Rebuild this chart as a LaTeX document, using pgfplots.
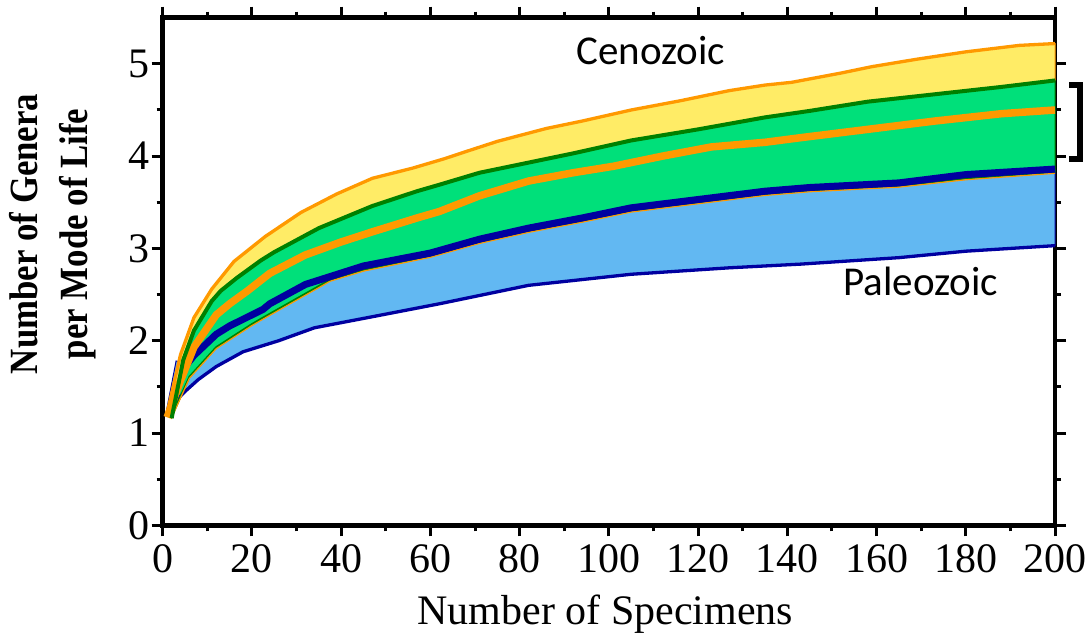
\documentclass[border=0pt]{standalone}
\usepackage{pgfplots}
\pgfplotsset{compat=1.18}
\usepgfplotslibrary{fillbetween}
\usepackage{fontspec}
\setmainfont{Liberation Serif}
\newfontfamily\calibri{Carlito}
\definecolor{corange}{HTML}{FF9900}
\definecolor{cgline}{HTML}{008000}
\definecolor{cyellow}{HTML}{FFEC66}
\definecolor{cgreen}{HTML}{00E07A}
\definecolor{cblue}{HTML}{62B8F2}
\definecolor{cnavy}{HTML}{0000A0}

\begin{document}
\begin{tikzpicture}[x=1pt,y=1pt]
\begin{axis}[
  at={(162.7pt,109.7pt)}, anchor=south west,
  scale only axis, width=892.3pt, height=507.6pt,
  xmin=0, xmax=200, ymin=0, ymax=5.5,
  xtick={0,20,...,200}, ytick={0,1,...,5},
  minor x tick num=1, minor y tick num=1,
  tick align=outside, xtick pos=both, ytick pos=both,
  xticklabel pos=lower, yticklabel pos=left,
  major tick length=11pt, minor tick length=6pt,
  axis line style={line width=4.5pt},
  every tick/.style={black, line width=3pt},
  tick label style={font=\fontsize{42}{42}\selectfont, inner sep=2pt},
  xticklabel style={yshift=-6pt},
  /pgf/number format/assume math mode=true,
  xlabel={Number of Specimens},
  xlabel style={at={(axis description cs:0.496,-0.196)}, anchor=base, font=\fontsize{42}{42}\selectfont},
  ylabel={\scalebox{0.87}[1]{Number of Genera}\\\scalebox{0.87}[1]{per Mode of Life}},
  ylabel style={at={(axis description cs:-0.123,0.574)}, anchor=center, align=center, font=\bfseries\fontsize{40}{50}\selectfont},
  clip=false,
]
% boundary curves (invisible), used for the fills
\addplot[draw=none, name path=otop] coordinates {
  (1,1.22) (4,1.85) (7,2.25) (11,2.56) (16,2.86) (23,3.13) (31,3.39) (39,3.59)
  (47,3.76) (56,3.87) (63,3.97) (68,4.05) (75,4.16) (86,4.30) (94,4.38) (105,4.50)
  (116,4.60) (127,4.71) (135,4.77) (141,4.80) (152,4.90) (159,4.97) (169,5.05)
  (180,5.13) (192,5.20) (200,5.22)};
\addplot[draw=none, name path=gline] coordinates {
  (2,1.16) (4.6,1.79) (7,2.11) (11,2.43) (13,2.54) (16.6,2.68) (22,2.87) (25,2.96)
  (35,3.22) (47,3.46) (57,3.62) (62,3.69) (71,3.82) (82,3.93) (92,4.03) (105,4.17)
  (120,4.29) (135,4.42) (145,4.49) (158,4.59) (173,4.67) (188,4.75) (200,4.82)};
\addplot[draw=none, name path=lowc] coordinates {
  (2,1.18) (6,1.61) (12,1.93) (20,2.18) (22.5,2.25) (37.5,2.66) (45,2.77) (60,2.92)
  (71,3.07) (82,3.19) (94,3.30) (105,3.41) (120,3.50) (135,3.59) (145,3.63)
  (165,3.68) (180,3.76) (200,3.83)};
\addplot[draw=none, name path=bup] coordinates {
  (1,1.28) (3,1.78) (5,1.76) (7,1.84) (12,2.07) (15,2.16) (22.5,2.34) (24,2.40)
  (32,2.61) (45,2.81) (60,2.95) (71,3.10) (82,3.22) (94,3.33) (105,3.44) (120,3.53)
  (135,3.62) (145,3.66) (165,3.71) (180,3.80) (200,3.86)};
\addplot[draw=none, name path=blow] coordinates {
  (1,1.25) (4,1.40) (5,1.45) (8,1.58) (12,1.72) (18,1.88) (26,2.00) (34,2.14)
  (47,2.26) (62,2.40) (82,2.60) (105,2.72) (127,2.79) (143,2.83) (165,2.90)
  (180,2.97) (200,3.03)};

% bands
\addplot[cblue, draw=cnavy, line width=1pt] fill between[of=bup and blow];
\addplot[cyellow, draw=corange, line width=1pt] fill between[of=otop and gline];
\addplot[cgreen, draw=cgline, line width=1pt] fill between[of=gline and lowc];

% visible lines
\addplot[cnavy, line width=3.3pt] coordinates {
  (1,1.25) (4,1.40) (5,1.45) (8,1.58) (12,1.72) (18,1.88) (26,2.00) (34,2.14)
  (47,2.26) (62,2.40) (82,2.60) (105,2.72) (127,2.79) (143,2.83) (165,2.90)
  (180,2.97) (200,3.03)};
\addplot[cgline, line width=2pt] coordinates {
  (2,1.18) (6,1.61) (12,1.93) (20,2.18) (22.5,2.25) (37.5,2.66) (45,2.77) (60,2.92)
  (71,3.07) (82,3.19) (94,3.30) (105,3.41) (120,3.50) (135,3.59) (145,3.63)
  (165,3.68) (180,3.76) (200,3.83)};
\addplot[corange, line width=1.2pt, yshift=-1.5pt] coordinates {
  (2,1.18) (6,1.61) (12,1.93) (20,2.18) (22.5,2.25) (37.5,2.66) (45,2.77) (60,2.92)
  (71,3.07) (82,3.19) (94,3.30) (105,3.41) (120,3.50) (135,3.59) (145,3.63)
  (165,3.68) (180,3.76) (200,3.83)};
\addplot[corange, line width=3.3pt] coordinates {
  (1,1.22) (4,1.85) (7,2.25) (11,2.56) (16,2.86) (23,3.13) (31,3.39) (39,3.59)
  (47,3.76) (56,3.87) (63,3.97) (68,4.05) (75,4.16) (86,4.30) (94,4.38) (105,4.50)
  (116,4.60) (127,4.71) (135,4.77) (141,4.80) (152,4.90) (159,4.97) (169,5.05)
  (180,5.13) (192,5.20) (200,5.22)};
\addplot[cnavy, line width=7pt] coordinates {
  (5,1.72) (7,1.84) (12,2.07) (15,2.16) (22.5,2.34) (24,2.40) (32,2.61) (45,2.81)
  (60,2.95) (71,3.10) (82,3.22) (94,3.33) (105,3.44) (120,3.53) (135,3.62)
  (145,3.66) (165,3.71) (180,3.80) (200,3.86)};
\addplot[corange, line width=7.5pt] coordinates {
  (1,1.17) (4,1.57) (7,1.93) (12,2.28) (15,2.40) (19,2.54) (24,2.73) (32,2.93)
  (40,3.07) (47,3.18) (57,3.33) (62,3.40) (71,3.57) (82,3.73) (92,3.82) (101,3.89)
  (112,4.00) (123,4.10) (135,4.15) (143,4.20) (158,4.29) (173,4.38) (188,4.46)
  (200,4.50)};
\addplot[cgline, line width=4pt] coordinates {
  (2,1.16) (4.6,1.79) (7,2.11) (11,2.43) (13,2.54) (16.6,2.68) (22,2.87) (25,2.96)
  (35,3.22) (47,3.46) (57,3.62) (62,3.69) (71,3.82) (82,3.93) (92,4.03) (105,4.17)
  (120,4.29) (135,4.42) (145,4.49) (158,4.59) (173,4.67) (188,4.75) (200,4.82)};

\node[anchor=base, font=\calibri\fontsize{41}{41}\selectfont] at (axis cs:109.4,4.99) {Cenozoic};
\node[anchor=base, font=\calibri\fontsize{41}{41}\selectfont] at (axis cs:169.9,2.49) {Paleozoic};
\draw[line width=5.5pt] (axis cs:203.2,4.77) -| (axis cs:205.6,3.97) -- (axis cs:203.2,3.97);
\end{axis}
\pgfresetboundingbox
\path[use as bounding box] (0,0) rectangle (1085,635);
\end{tikzpicture}
\end{document}
